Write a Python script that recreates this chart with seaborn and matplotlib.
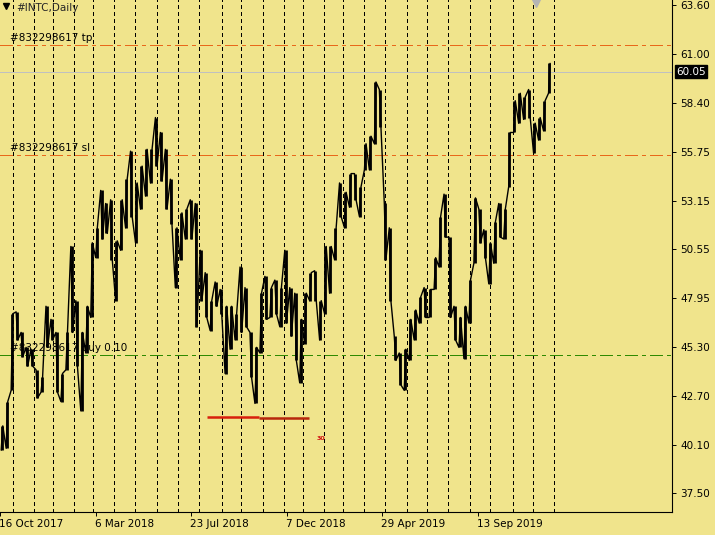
import numpy as np
import pandas as pd
import matplotlib
matplotlib.use("Agg")
import matplotlib.pyplot as plt
import matplotlib.transforms as mtransforms
import seaborn as sns

# ---------------- data ----------------
symbol_title = "#INTC,Daily"
first_date = "2017-10-16"
bars_per_chunk = 5
# high / low of consecutive 5-bar chunks (daily bars)
chunk_high = [41.1, 42.4, 47.1, 47.2, 46.1, 45.3, 45.2, 44.1, 43.7, 47.5,
              46.8, 46.1, 43.9, 46.1, 50.7, 47.8, 46.1, 47.5, 50.9, 51.7,
              53.7, 53.0, 53.2, 51.0, 53.2, 54.3, 55.8, 54.1, 55.0, 55.9,
              55.9, 57.6, 56.8, 55.9, 54.3, 51.7, 52.5, 52.7, 53.2, 53.0,
              50.5, 49.3, 47.8, 48.8, 48.4, 47.5, 47.5, 47.1, 49.6, 48.5,
              46.1, 45.3, 48.2, 49.1, 48.5, 48.9, 48.5, 50.5, 48.5, 48.2,
              46.8, 48.2, 49.3, 49.4, 47.8, 50.7, 50.7, 51.7, 54.1, 53.6,
              54.6, 54.6, 53.9, 56.2, 56.6, 59.5, 59.1, 53.0, 51.7, 45.9,
              45.0, 45.2, 46.8, 47.3, 48.0, 48.5, 48.4, 50.1, 52.3, 53.5,
              51.2, 47.5, 46.9, 47.5, 48.9, 53.3, 52.7, 51.6, 50.9, 52.0,
              53.0, 52.7, 56.8, 58.5, 58.9, 58.7, 59.1, 57.3, 57.6, 58.5,
              60.5]
chunk_low = [39.8, 39.9, 43.0, 45.7, 44.8, 44.3, 44.3, 42.6, 42.9, 45.3,
             45.7, 42.9, 42.4, 44.1, 46.1, 44.3, 41.9, 45.0, 46.9, 50.1,
             51.1, 51.4, 50.0, 47.8, 50.5, 51.7, 52.3, 50.9, 52.7, 53.4,
             54.1, 55.0, 54.2, 52.7, 51.9, 48.5, 50.0, 51.1, 51.1, 46.4,
             47.8, 46.9, 46.2, 47.5, 47.1, 43.9, 45.2, 45.7, 46.1, 46.4,
             43.7, 42.3, 45.0, 46.8, 46.9, 47.1, 46.4, 46.6, 45.9, 44.6,
             43.4, 45.5, 47.8, 47.8, 45.7, 47.1, 48.2, 50.0, 52.3, 51.7,
             52.8, 53.2, 52.3, 54.8, 54.8, 56.2, 57.1, 50.0, 47.8, 44.6,
             43.3, 43.0, 44.6, 45.7, 46.6, 46.9, 46.9, 48.4, 49.6, 51.2,
             46.9, 45.7, 45.3, 44.7, 46.6, 49.8, 50.9, 50.1, 48.7, 49.8,
             51.2, 51.1, 53.9, 56.8, 57.3, 57.5, 57.6, 55.7, 56.4, 56.9,
             58.9]
holidays = ["2017-11-23", "2017-12-25", "2018-01-01", "2018-01-15", "2018-02-19",
            "2018-03-30", "2018-05-28", "2018-07-04", "2018-09-03", "2018-11-22",
            "2018-12-05", "2018-12-25", "2019-01-01", "2019-01-21", "2019-02-18",
            "2019-04-19", "2019-05-27", "2019-07-04", "2019-09-02", "2019-11-28",
            "2019-12-25", "2020-01-01"]
date_tick_every = 96
price_ticks = [63.60, 61.00, 58.40, 55.75, 53.15, 50.55, 47.95, 45.30, 42.70, 40.10, 37.50]
bid_price = 60.05
order_id = "#832298617"
tp_price = 61.50
sl_price = 55.60
entry_price = 44.89
entry_label = "buy 0.10"
hist_segments = [("2018-08-14", "2018-10-26", 41.59, "#d8200c"),
                 ("2018-10-26", "2019-01-11", 41.54, "#b8280c")]
hist_mark_date = "2019-01-29"
hist_mark_price = 40.45
hist_mark_text = "30"

# ---------------- layout ----------------
W, H, DPI = 715, 535, 100
plot_w, plot_h = 672, 512
bg = "#f0e48c"
first_visible = 3.3          # bar index at the left edge
y_lo, y_hi = 36.49, 63.89

sns.set_theme(style="white")
plt.rcParams["font.family"] = ["DejaVu Sans"]
plt.rcParams["font.size"] = 7

fig = plt.figure(figsize=(W / DPI, H / DPI), dpi=DPI, facecolor=bg)
ax = fig.add_axes([0, (H - plot_h) / H, plot_w / W, plot_h / H])
ax.set_facecolor(bg)
ax.set_xlim(first_visible, first_visible + plot_w)
ax.set_ylim(y_lo, y_hi)

# trading calendar
cal = pd.bdate_range(first_date, "2020-01-31")
cal = cal[~cal.isin(pd.to_datetime(holidays))]
cal_idx = pd.Series(np.arange(len(cal)), index=cal)

# month separators
months = pd.Series(cal).groupby(pd.Series(cal).dt.to_period("M")).first()
for d in months.iloc[1:]:
    if d > pd.Timestamp("2020-01-10"):
        break
    ax.axvline(cal_idx[d] + 0.7, color="black", lw=0.72, ls=(0, (3, 3)),
               antialiased=False, zorder=1)

# price chunks
n = len(chunk_high)
df = pd.DataFrame({"x": np.arange(n) * bars_per_chunk + 2,
                   "high": chunk_high, "low": chunk_low})
df["mid"] = (df.high + df.low) / 2
zx, zy = [], []
for i, r in df.iterrows():
    nxt = df.mid.iloc[i + 1] if i + 1 < n else r.mid + 1
    pair = (r.low, r.high) if nxt >= r.mid else (r.high, r.low)
    zx += [r.x - 0.8, r.x + 0.8]
    zy += list(pair)
zig = pd.DataFrame({"x": zx, "price": zy})

# order labels and lines (behind bars)
lbl_x = first_visible + 7
dashdot = (0, (13, 5, 4, 5))
ax.axhline(tp_price, color="#e8681a", lw=0.72, ls=dashdot, antialiased=False, zorder=2)
ax.axhline(sl_price, color="#e8681a", lw=0.72, ls=dashdot, antialiased=False, zorder=2)
ax.axhline(entry_price, color="#2f8a00", lw=0.72, ls=dashdot, antialiased=False, zorder=2)
ax.axhline(bid_price, color="#c0c0c0", lw=0.72, antialiased=False, zorder=2)
txt_kw = dict(ha="left", va="bottom", zorder=2, fontsize=7.5, color="black")
ax.text(lbl_x, tp_price + 0.10, f"{order_id} tp", **txt_kw)
ax.text(lbl_x, sl_price + 0.10, f"{order_id} sl", **txt_kw)
ax.text(lbl_x, entry_price + 0.10, f"{order_id} {entry_label}", **txt_kw)

ax.vlines(df.x, df.low, df.high, color="black", lw=2.0, zorder=3)
sns.lineplot(data=zig, x="x", y="price", sort=False, estimator=None,
             color="black", lw=1.0, ax=ax, zorder=3)

# history segments
for s, e, p, c in hist_segments:
    ax.plot([cal_idx[pd.Timestamp(s)], cal_idx[pd.Timestamp(e)]], [p, p],
            color=c, lw=1.8, solid_capstyle="butt", zorder=4)
ax.text(cal_idx[pd.Timestamp(hist_mark_date)], hist_mark_price, hist_mark_text,
        color="#d01010", fontsize=4.5, fontweight="bold", ha="center", va="center", zorder=4)

# title
ax.text(16 / plot_w, 1 - 8 / plot_h, symbol_title, transform=ax.transAxes,
        ha="left", va="center", fontsize=7.5, zorder=5)
ax.plot([6 / plot_w], [1 - 6 / plot_h], marker="v", ms=5, color="black",
        transform=ax.transAxes, clip_on=False, zorder=5)
ax.plot([536 / plot_w], [1 - 1 / plot_h], marker="v", ms=8, color="#b4b4b4",
        mec="#b4b4b4", transform=ax.transAxes, clip_on=True, zorder=5)

# spines
for side in ("left", "top"):
    ax.spines[side].set_visible(False)
for side in ("right", "bottom"):
    ax.spines[side].set_color("black")
    ax.spines[side].set_linewidth(0.8)

# axes ticks
ax.yaxis.tick_right()
ax.set_yticks(price_ticks)
ax.set_yticklabels([f"{v:.2f}" for v in price_ticks])
ax.tick_params(axis="y", right=True, left=False, direction="out", length=3,
               width=0.7, pad=3, labelsize=7.5, colors="black")
tick_idx = list(range(0, len(cal), date_tick_every))[:6]
ax.set_xticks(tick_idx)
ax.set_xticklabels([f"{cal[i].day} {cal[i]:%b %Y}" for i in tick_idx], ha="left")
ax.tick_params(axis="x", bottom=True, direction="out", length=3, width=0.7,
               pad=2, labelsize=7.5, colors="black")
for lab in ax.get_xticklabels():
    lab.set_transform(lab.get_transform() + mtransforms.ScaledTranslation(-1 / DPI, 0, fig.dpi_scale_trans))
ax.set_xlabel("")
ax.set_ylabel("")
ax.grid(False)

# bid label box
ax.annotate(f"{bid_price:.2f}", xy=(1, bid_price), xycoords=("axes fraction", "data"),
            xytext=(3, 0), textcoords="offset points", ha="left", va="center",
            color="white", fontsize=7.5,
            bbox=dict(boxstyle="square,pad=0.15", fc="black", ec="black"),
            annotation_clip=False, zorder=6)

fig.savefig("out.png", dpi=DPI, facecolor=bg)
